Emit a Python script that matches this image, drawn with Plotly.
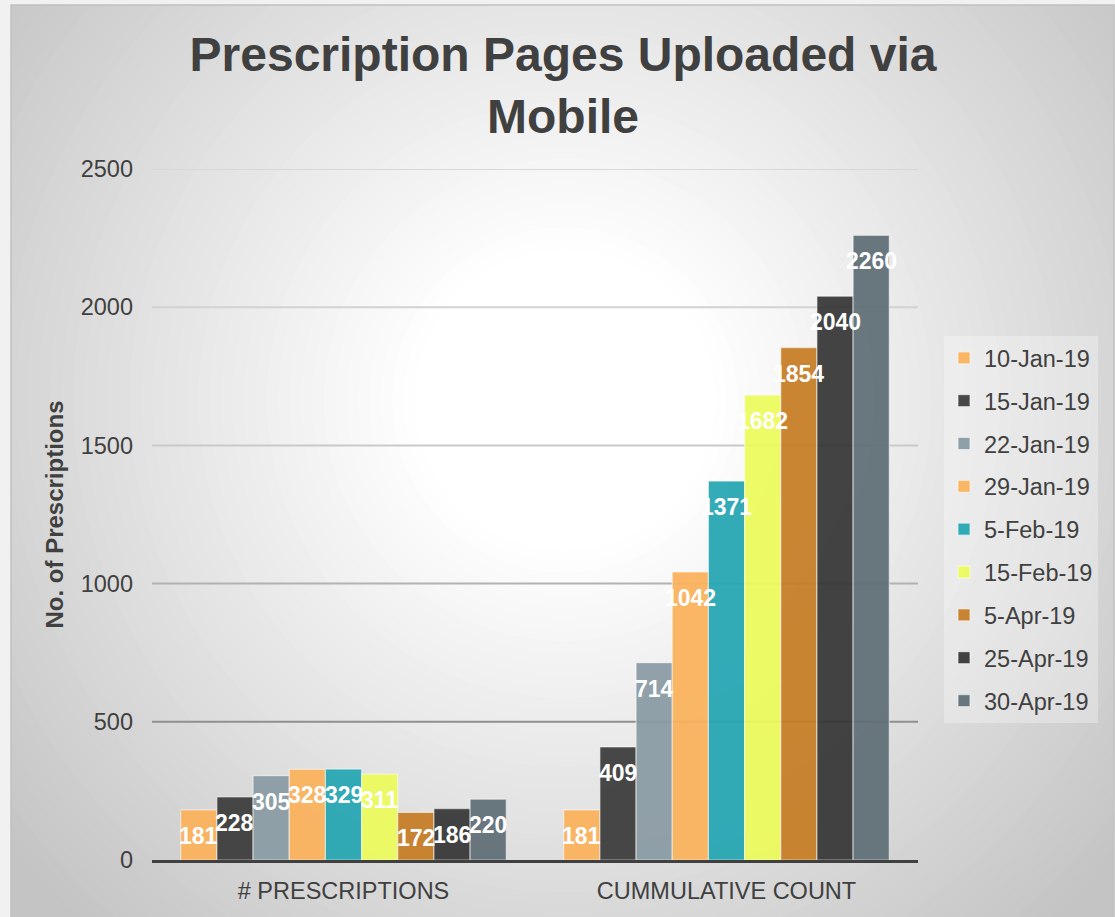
import plotly.graph_objects as go

categories = ["# PRESCRIPTIONS", "CUMMULATIVE COUNT"]
series_names = ["10-Jan-19", "15-Jan-19", "22-Jan-19", "29-Jan-19", "5-Feb-19",
                "15-Feb-19", "5-Apr-19", "25-Apr-19", "30-Apr-19"]
prescriptions = [181, 228, 305, 328, 329, 311, 172, 186, 220]
cumulative = [181, 409, 714, 1042, 1371, 1682, 1854, 2040, 2260]
colors = ["#fbb25b", "#3b3b3b", "#8a9ba4", "#fbb25b", "#25a6b3",
          "#ecfc5b", "#c77d25", "#363636", "#5f6e76"]
y_ticks = [0, 500, 1000, 1500, 2000, 2500]
grid_colors = {500: "#8f8f8f", 1000: "#b2b2b2", 1500: "#c9c9c9", 2000: "#d2d2d2", 2500: "#d8d8d8"}

W, H = 1115, 917
ML, MR, MT, MB = 152, 197, 169, 57
PW, PH = W - ML - MR, H - MT - MB
BARGAP = 0.15


def px2x(px):
    return (px - ML) / PW


def px2y(py):
    return (H - MB - py) / PH


fig = go.Figure()
for i, name in enumerate(series_names):
    vals = [prescriptions[i], cumulative[i]]
    fig.add_trace(go.Bar(
        name=name, x=categories, y=vals,
        marker=dict(color=colors[i], line=dict(color="rgba(255,255,255,0.55)", width=1.2)),
        opacity=0.93,
        legendgroup=name,
        hoverinfo="x+y+name",
    ))

# value labels (inside end of each bar)
n = len(series_names)
bar_px = PW / len(categories) * (1 - BARGAP) / n
annotations = []
for i in range(n):
    for cat, v in zip(categories, [prescriptions[i], cumulative[i]]):
        annotations.append(dict(
            x=cat, y=v, xref="x", yref="y", text=f"<b>{v}</b>", showarrow=False,
            xshift=(i - (n - 1) / 2) * bar_px, yshift=-26, yanchor="middle",
            font=dict(color="white", size=23, family="Liberation Sans, Arial, sans-serif"),
        ))

shapes = []
shapes.append(dict(type="rect", xref="paper", yref="paper", layer="below",
                   x0=px2x(11), x1=px2x(1114), y0=px2y(5), y1=px2y(H + 5),
                   fillcolor="rgb(196,196,196)", line=dict(width=0)))
cx, cy = 565, 400
r_in, r_out = 150, 720
steps = 50
for k in range(steps + 1):
    r = r_out - (r_out - r_in) * k / steps
    c = int(round(196 + (255 - 196) * k / steps))
    shapes.append(dict(type="circle", xref="paper", yref="paper", layer="below",
                       xsizemode="pixel", ysizemode="pixel",
                       xanchor=px2x(cx), yanchor=px2y(cy),
                       x0=-r, x1=r, y0=-r, y1=r,
                       fillcolor=f"rgb({c},{c},{c})", line=dict(width=0)))
page = "#f1f1f1"
for (a, b, c_, d) in [(-5, 11, -5, H + 5), (-5, W + 5, -5, 5), (1114, W + 5, -5, H + 5)]:
    shapes.append(dict(type="rect", xref="paper", yref="paper", layer="below",
                       x0=px2x(a), x1=px2x(b), y0=px2y(c_), y1=px2y(d),
                       fillcolor=page, line=dict(width=0)))
shapes.append(dict(type="rect", xref="paper", yref="paper", layer="below",
                   x0=px2x(11), x1=px2x(1114), y0=px2y(5), y1=px2y(H + 5),
                   fillcolor="rgba(0,0,0,0)", line=dict(color="#c0c0c0", width=1.5)))
for t in y_ticks[1:]:
    shapes.append(dict(type="line", xref="paper", yref="y", layer="below",
                       x0=0, x1=1, y0=t, y1=t,
                       line=dict(color=grid_colors[t], width=2)))

fig.update_layout(
    width=W, height=H,
    margin=dict(l=ML, r=MR, t=MT, b=MB),
    paper_bgcolor=page, plot_bgcolor="rgba(0,0,0,0)",
    font=dict(family="Liberation Sans, Arial, sans-serif", color="#404040", size=23.5),
    title=dict(text="<b>Prescription Pages Uploaded via<br>Mobile</b>",
               font=dict(size=48, color="#404040"),
               x=563 / W, xanchor="center", xref="container",
               y=1 - 71 / H, yanchor="middle"),
    barmode="group", bargap=BARGAP, bargroupgap=0.0,
    shapes=shapes,
    annotations=annotations,
    legend=dict(x=px2x(944), xanchor="left", y=px2y(336), yanchor="top",
                traceorder="grouped", tracegroupgap=9.3,
                bgcolor="rgba(255,255,255,0.3)",
                font=dict(size=23.5, color="#404040")),
    xaxis=dict(showgrid=False, showline=True, linecolor="#404040", linewidth=3,
               ticks="", tickfont=dict(size=23.5, color="#404040"),
               ticklabelstandoff=8),
    yaxis=dict(range=[0, 2500], tickvals=y_ticks, showgrid=False, zeroline=False,
               ticks="", tickfont=dict(size=23.5, color="#404040"),
               ticklabelstandoff=18,
               title=dict(text="<b>No. of Prescriptions</b>", font=dict(size=24, color="#404040"),
                          standoff=10)),
)

fig.write_html("out.html", config={"displayModeBar": False},
               post_script="document.body.style.margin='0';document.body.style.overflow='hidden';")
